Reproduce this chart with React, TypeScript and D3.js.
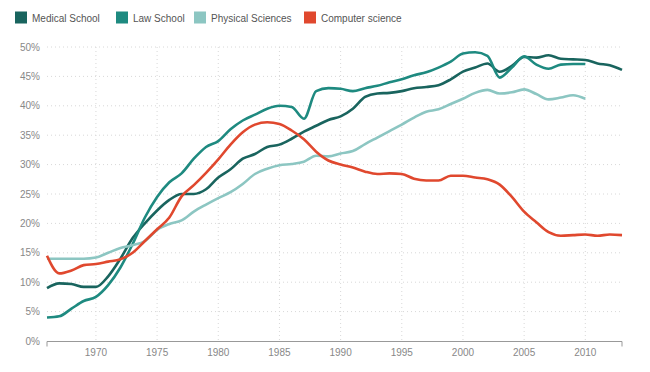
import React from 'react'
import * as d3 from 'd3'

const years = d3.range(1966, 2014)

const medical = [9.0, 9.8, 9.7, 9.2, 9.2, 11.0, 14.0, 17.5, 20.0, 22.2, 24.0, 25.0, 25.0, 25.8, 27.8, 29.2, 31.0, 31.8, 33.0, 33.4, 34.4, 35.6, 36.6, 37.6, 38.2, 39.5, 41.5, 42.1, 42.2, 42.5, 43.0, 43.2, 43.5, 44.5, 45.8, 46.5, 47.2, 45.8, 46.8, 48.3, 48.2, 48.6, 48.0, 47.9, 47.8, 47.2, 46.9, 46.1]
const law = [4.0, 4.2, 5.5, 6.8, 7.5, 9.5, 12.5, 16.5, 21.0, 24.5, 27.0, 28.5, 31.0, 33.0, 34.0, 36.0, 37.5, 38.5, 39.5, 40.0, 39.8, 37.8, 42.5, 43.0, 42.9, 42.5, 43.0, 43.4, 44.0, 44.5, 45.2, 45.7, 46.5, 47.5, 48.9, 49.1, 48.5, 44.8, 46.5, 48.4, 47.0, 46.3, 47.0, 47.1, 47.1]
const physical = [14.0, 14.0, 14.0, 14.0, 14.2, 15.0, 15.8, 16.3, 17.0, 18.9, 19.9, 20.5, 22.0, 23.2, 24.3, 25.3, 26.7, 28.4, 29.3, 29.9, 30.1, 30.5, 31.5, 31.4, 31.9, 32.3, 33.5, 34.6, 35.7, 36.8, 38.0, 39.0, 39.4, 40.3, 41.2, 42.2, 42.7, 42.1, 42.3, 42.8, 42.0, 41.1, 41.4, 41.8, 41.2]
const computer = [14.5, 11.5, 12.0, 12.9, 13.1, 13.5, 13.9, 15.0, 17.0, 19.0, 21.0, 24.6, 26.5, 28.6, 30.9, 33.4, 35.5, 36.8, 37.2, 36.9, 35.8, 34.3, 32.2, 30.7, 30.0, 29.5, 28.8, 28.4, 28.5, 28.4, 27.6, 27.3, 27.3, 28.1, 28.1, 27.8, 27.5, 26.6, 24.5, 22.0, 20.2, 18.5, 17.9, 18.0, 18.1, 17.9, 18.1, 18.0]

const seriesNames = ['Medical School', 'Law School', 'Physical Sciences', 'Computer science']
const seriesValues = [medical, law, physical, computer]
const colors = ['#19645e', '#1e8a80', '#8cc6c2', '#e0482e']

const yTicks = d3.range(0, 51, 5)
const xTicks = d3.range(1970, 2011, 5)

const W = 650
const H = 372
const margin = { top: 47, right: 28, bottom: 31, left: 47 }

export default function App () {
  const x = d3.scaleLinear().domain([1966, 2013]).range([margin.left, W - margin.right])
  const y = d3.scaleLinear().domain([0, 50]).range([H - margin.bottom, margin.top])
  const line = d3.line<number>()
    .x((d, i) => x(years[i]))
    .y(d => y(d))
    .curve(d3.curveMonotoneX)

  const font = 'Liberation Sans, Arial, sans-serif'
  const legendX = [15, 116, 194, 304]

  return (
    <svg width={W} height={H} style={{ position: 'absolute', left: 0, top: 0, background: '#fff' }} fontFamily={font}>
      {/* legend */}
      {seriesNames.map((name, i) => (
        <g key={name} transform={`translate(${legendX[i]},11.5)`}>
          <rect width={12} height={12} fill={colors[i]} />
          <text x={17} y={10} fontSize={10} fill='#555'>{name}</text>
        </g>
      ))}

      {/* grid */}
      {yTicks.map(t => (
        <g key={'y' + t}>
          {t > 0 && (
            <line x1={x(1966)} x2={x(2013)} y1={y(t)} y2={y(t)} stroke='#d8d8d8' strokeDasharray='1,3' />
          )}
          <text x={40} y={y(t)} dy='0.35em' textAnchor='end' fontSize={10} fill='#888'>{t}%</text>
        </g>
      ))}
      {xTicks.map(t => (
        <g key={'x' + t}>
          <line x1={x(t)} x2={x(t)} y1={y(50)} y2={y(0)} stroke='#d8d8d8' strokeDasharray='1,3' />
          <text x={x(t)} y={y(0) + 11.5} dy='0.35em' textAnchor='middle' fontSize={10} fill='#888'>{t}</text>
        </g>
      ))}

      {/* axis */}
      <path d={`M${x(1966)},${y(0) + 5.5}V${y(0) + 0.5}H${x(2013)}V${y(0) + 5.5}`} fill='none' stroke='#999' />

      {/* lines */}
      {seriesValues.map((vals, i) => (
        <path key={seriesNames[i]} d={line(vals) || ''} fill='none' stroke={colors[i]} strokeWidth={2.6} strokeLinejoin='round' />
      ))}
    </svg>
  )
}
